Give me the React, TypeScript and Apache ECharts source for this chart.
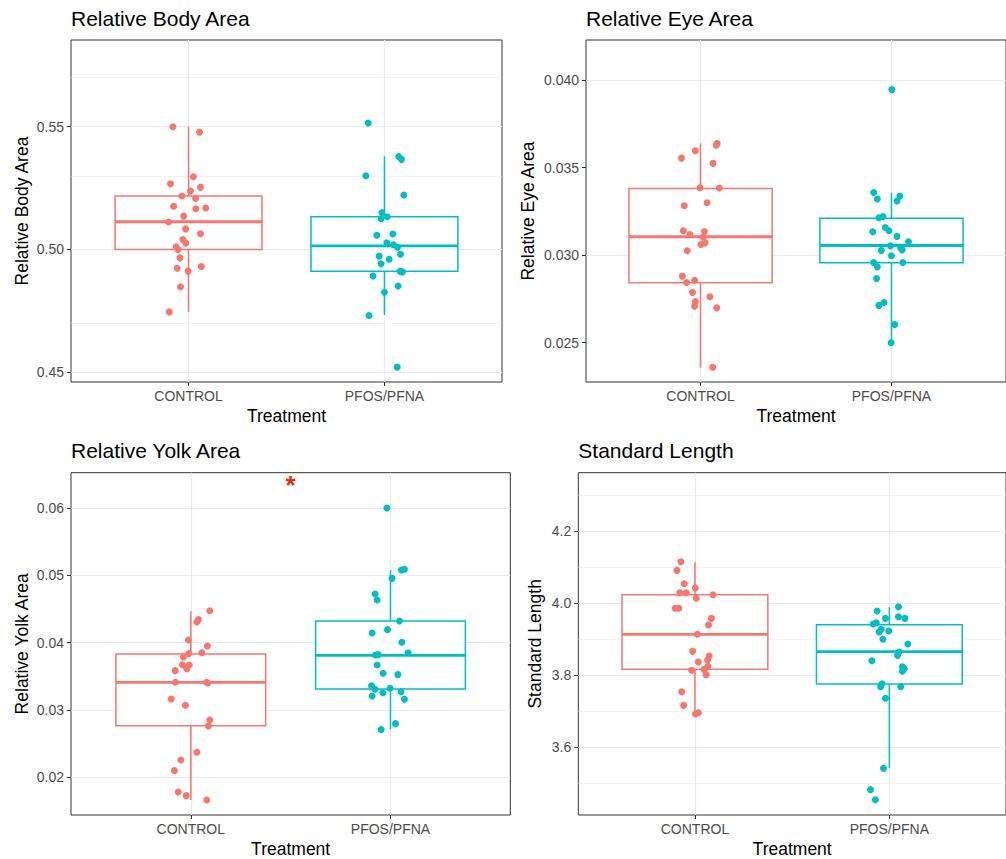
import React, { useEffect, useRef } from "react";
import * as echarts from "echarts";

const treatments = ["CONTROL", "PFOS/PFNA"];
const groupColors = ["#F8766D", "#00BFC4"];

// [jitter offset, value]
const bodyControl = [[-0.080,0.5500],[0.056,0.5478],[0.025,0.5296],[-0.092,0.5268],[0.061,0.5253],[0.010,0.5238],[-0.034,0.5218],[0.036,0.5208],[-0.076,0.5176],[0.037,0.5166],[0.088,0.5169],[-0.025,0.5136],[-0.102,0.5112],[-0.015,0.5084],[0.061,0.5064],[-0.029,0.5041],[-0.014,0.5026],[-0.063,0.5011],[-0.053,0.5000],[-0.044,0.4966],[-0.058,0.4924],[0.065,0.4931],[-0.002,0.4912],[-0.041,0.4848],[-0.098,0.4746]];
const bodyPfos = [[-0.083,0.5515],[0.073,0.5379],[0.087,0.5367],[-0.095,0.5300],[0.099,0.5222],[-0.013,0.5150],[-0.017,0.5125],[0.014,0.5133],[-0.039,0.5058],[0.043,0.5063],[0.012,0.5027],[0.046,0.5019],[0.066,0.5009],[0.082,0.4981],[-0.027,0.4973],[0.024,0.4960],[-0.017,0.4942],[0.080,0.4911],[0.092,0.4909],[-0.058,0.4892],[0.070,0.4851],[0.000,0.4826],[-0.079,0.4731],[0.065,0.4521]];
const eyeControl = [[0.087,0.03638],[0.082,0.03627],[-0.027,0.03596],[-0.100,0.03554],[0.065,0.03524],[-0.003,0.03385],[0.098,0.03383],[-0.085,0.03282],[0.034,0.03299],[-0.090,0.03139],[-0.056,0.03118],[0.020,0.03135],[0.014,0.03103],[0.024,0.03070],[0.002,0.03061],[-0.070,0.03025],[-0.095,0.02880],[-0.073,0.02844],[-0.031,0.02857],[-0.042,0.02787],[0.049,0.02762],[-0.027,0.02735],[-0.031,0.02709],[0.085,0.02699],[0.064,0.02360]];
const eyePfos = [[0.002,0.03945],[-0.093,0.03358],[-0.074,0.03320],[0.044,0.03337],[0.029,0.03309],[-0.066,0.03213],[-0.044,0.03221],[-0.098,0.03133],[-0.032,0.03158],[-0.013,0.03139],[0.029,0.03107],[0.089,0.03076],[-0.005,0.03053],[-0.053,0.03027],[0.048,0.03042],[0.056,0.03030],[0.000,0.02996],[-0.093,0.02958],[-0.074,0.02933],[0.060,0.02958],[-0.078,0.02867],[-0.066,0.02713],[-0.039,0.02730],[0.017,0.02604],[-0.002,0.02500]];
const yolkControl = [[0.095,0.04475],[0.038,0.04342],[0.030,0.04307],[-0.012,0.04040],[0.083,0.03950],[-0.010,0.03837],[0.055,0.03851],[-0.037,0.03787],[-0.042,0.03673],[-0.008,0.03668],[-0.020,0.03614],[-0.078,0.03584],[-0.077,0.03411],[0.080,0.03411],[0.085,0.03400],[-0.098,0.03163],[-0.027,0.03069],[0.095,0.02851],[0.088,0.02762],[0.030,0.02371],[-0.050,0.02257],[-0.082,0.02099],[-0.063,0.01782],[-0.023,0.01728],[0.080,0.01663]];
const yolkPfos = [[-0.018,0.06000],[0.055,0.05079],[0.070,0.05089],[0.008,0.04955],[-0.077,0.04723],[-0.067,0.04634],[0.045,0.04322],[-0.092,0.04144],[-0.015,0.04193],[0.057,0.04005],[0.088,0.03851],[-0.075,0.03817],[-0.062,0.03822],[-0.067,0.03668],[-0.037,0.03545],[0.037,0.03525],[-0.095,0.03361],[-0.078,0.03307],[-0.002,0.03322],[-0.092,0.03208],[-0.038,0.03257],[0.053,0.03272],[0.070,0.03158],[0.025,0.02797],[-0.047,0.02708]];
const lengthControl = [[-0.072,4.1148],[-0.093,4.0907],[-0.055,4.0537],[0.002,4.0417],[-0.078,4.0287],[-0.045,4.0287],[0.007,4.0130],[0.093,4.0231],[-0.102,3.9852],[-0.083,3.9852],[0.085,3.9574],[0.070,3.9389],[0.012,3.9130],[-0.012,3.8657],[0.073,3.8528],[0.065,3.8417],[0.017,3.8361],[-0.017,3.8130],[0.067,3.8241],[0.047,3.8157],[0.058,3.8009],[-0.068,3.7537],[-0.058,3.7157],[0.003,3.6917],[0.018,3.6954]];
const lengthPfos = [[0.047,3.9898],[-0.063,3.9778],[-0.020,3.9574],[0.047,3.9620],[0.080,3.9574],[-0.083,3.9417],[-0.067,3.9454],[-0.042,3.9269],[-0.053,3.9194],[-0.003,3.9222],[-0.033,3.8991],[0.095,3.8861],[0.050,3.8639],[0.042,3.8546],[-0.090,3.8398],[0.067,3.8231],[0.077,3.8176],[0.067,3.8102],[-0.038,3.7759],[-0.045,3.7676],[0.058,3.7676],[-0.020,3.7352],[-0.030,3.5407],[-0.097,3.4815],[-0.072,3.4537]];

// box stats: [lower whisker, Q1, median, Q3, upper whisker]
const bodyBoxControl = [0.4746, 0.5000, 0.5113, 0.5218, 0.5500];
const bodyBoxPfos = [0.4733, 0.4911, 0.5015, 0.5133, 0.5379];
const eyeBoxControl = [0.02358, 0.02842, 0.03105, 0.03381, 0.03638];
const eyeBoxPfos = [0.0250, 0.02956, 0.03055, 0.03211, 0.03356];
const yolkBoxControl = [0.01663, 0.02767, 0.03411, 0.03832, 0.04470];
const yolkBoxPfos = [0.02713, 0.03312, 0.03812, 0.04322, 0.05079];
const lengthBoxControl = [3.6935, 3.8157, 3.9130, 4.0231, 4.1130];
const lengthBoxPfos = [3.5407, 3.7750, 3.8648, 3.9398, 3.9880];

// tick values
const bodyMajor = [0.45, 0.50, 0.55];
const bodyMinor = [0.475, 0.525, 0.575];
const eyeMajor = [0.025, 0.030, 0.035, 0.040];
const eyeMinor = [0.0275, 0.0325, 0.0375];
const yolkMajor = [0.02, 0.03, 0.04, 0.05, 0.06];
const yolkMinor = [0.015, 0.025, 0.035, 0.045, 0.055, 0.065];
const lengthMajor = [3.6, 3.8, 4.0, 4.2];
const lengthMinor = [3.5, 3.7, 3.9, 4.1, 4.3];

const titles = ["Relative Body Area", "Relative Eye Area", "Relative Yolk Area", "Standard Length"];
const xTitle = "Treatment";
const significance = [{ panel: 2, x: 1.5, y: 0.0641, text: "*" }];

const panels = [
  { title: titles[0], pts: [bodyControl, bodyPfos], box: [bodyBoxControl, bodyBoxPfos], major: bodyMajor, minor: bodyMinor, dec: 2,
    grid: { left: 71, top: 40, width: 431, height: 342 }, yr: [0.44605, 0.5853], nameGap: 40, titleTop: 8 },
  { title: titles[1], pts: [eyeControl, eyePfos], box: [eyeBoxControl, eyeBoxPfos], major: eyeMajor, minor: eyeMinor, dec: 3,
    grid: { left: 586, top: 40, width: 432, height: 342 }, yr: [0.022756, 0.042284], nameGap: 49, titleTop: 8 },
  { title: titles[2], pts: [yolkControl, yolkPfos], box: [yolkBoxControl, yolkBoxPfos], major: yolkMajor, minor: yolkMinor, dec: 2,
    grid: { left: 71, top: 472.7, width: 439.3, height: 342.3 }, yr: [0.0144, 0.065243], nameGap: 40, titleTop: 440 },
  { title: titles[3], pts: [lengthControl, lengthPfos], box: [lengthBoxControl, lengthBoxPfos], major: lengthMajor, minor: lengthMinor, dec: 1,
    grid: { left: 578.3, top: 472.7, width: 440, height: 342.3 }, yr: [3.4111, 4.362], nameGap: 34, titleTop: 440 },
];

const FONT = "Liberation Sans, Arial, Helvetica, sans-serif";

export default function App() {
  const ref = useRef<HTMLDivElement>(null);
  useEffect(() => {
    if (!ref.current) return;
    const chart = echarts.init(ref.current, null, { renderer: "svg" });
    const grid: any[] = [];
    const xAxis: any[] = [];
    const yAxis: any[] = [];
    const title: any[] = [];
    const series: any[] = [];

    panels.forEach((p, i) => {
      grid.push({ ...p.grid, show: true, borderColor: "#333333", borderWidth: 1, backgroundColor: "transparent", containLabel: false });
      title.push({ text: p.title, left: p.grid.left, top: p.titleTop, padding: 0,
        textStyle: { fontFamily: FONT, fontSize: 21, fontWeight: "normal", color: "#000" } });
      xAxis.push({
        type: "value", gridIndex: i, min: 0.4, max: 2.6,
        name: xTitle, nameLocation: "middle", nameGap: 25,
        nameTextStyle: { fontFamily: FONT, fontSize: 17.5, color: "#000" },
        axisLine: { show: false },
        axisTick: { show: true, length: 4, customValues: [1, 2], lineStyle: { color: "#333333", width: 1 } },
        axisLabel: { show: true, margin: 7, customValues: [1, 2], fontFamily: FONT, fontSize: 14, color: "#4d4d4d",
          formatter: (v: number) => treatments[Math.round(v) - 1] ?? "" },
        splitLine: { show: false },
      });
      yAxis.push({
        type: "value", gridIndex: i, min: p.yr[0], max: p.yr[1],
        name: p.title, nameLocation: "middle", nameGap: p.nameGap,
        nameTextStyle: { fontFamily: FONT, fontSize: 17.5, color: "#000" },
        axisLine: { show: false },
        axisTick: { show: true, length: 4, customValues: p.major, lineStyle: { color: "#333333", width: 1 } },
        axisLabel: { show: true, margin: 7, customValues: p.major, fontFamily: FONT, fontSize: 14, color: "#4d4d4d",
          formatter: (v: number) => v.toFixed(p.dec) },
        splitLine: { show: false },
      });
      // gridlines
      series.push({
        type: "line", xAxisIndex: i, yAxisIndex: i, data: [], silent: true, z: 0,
        markLine: {
          z: 0, zlevel: 0,
          silent: true, symbol: ["none", "none"], label: { show: false }, animation: false,
          data: [
            ...p.minor.map((v) => ({ yAxis: v, lineStyle: { color: "#ebebeb", width: 0.6, type: "solid" } })),
            ...p.major.map((v) => ({ yAxis: v, lineStyle: { color: "#ebebeb", width: 1.2, type: "solid" } })),
            ...[1, 2].map((v) => ({ xAxis: v, lineStyle: { color: "#ebebeb", width: 1.2, type: "solid" } })),
          ],
        },
      });
      // boxes
      series.push({
        type: "custom", xAxisIndex: i, yAxisIndex: i, z: 2, silent: true,
        encode: { x: 0, y: [1, 2, 3, 4, 5] },
        data: p.box.map((b, gi) => [gi + 1, ...b]),
        renderItem: (params: any, api: any) => {
          const x = api.value(0);
          const lo = api.value(1), q1 = api.value(2), med = api.value(3), q3 = api.value(4), hi = api.value(5);
          const hw = 0.375;
          const tl = api.coord([x - hw, q3]);
          const br = api.coord([x + hw, q1]);
          const m = api.coord([x, med]);
          const t = api.coord([x, hi]);
          const b = api.coord([x, lo]);
          const color = groupColors[params.dataIndex];
          return {
            type: "group",
            children: [
              { type: "line", shape: { x1: m[0], y1: t[1], x2: m[0], y2: tl[1] }, style: { stroke: color, lineWidth: 1.5 } },
              { type: "line", shape: { x1: m[0], y1: br[1], x2: m[0], y2: b[1] }, style: { stroke: color, lineWidth: 1.5 } },
              { type: "rect", shape: { x: tl[0], y: tl[1], width: br[0] - tl[0], height: br[1] - tl[1] }, style: { fill: "#ffffff", stroke: color, lineWidth: 1.5 } },
              { type: "line", shape: { x1: tl[0], y1: m[1], x2: br[0], y2: m[1] }, style: { stroke: color, lineWidth: 2.8 } },
            ],
          };
        },
      });
      // points
      p.pts.forEach((arr, gi) => {
        series.push({
          type: "scatter", xAxisIndex: i, yAxisIndex: i, z: 3, silent: true,
          symbol: "circle", symbolSize: 7,
          itemStyle: { color: groupColors[gi], opacity: 1 },
          data: arr.map(([j, v]) => [gi + 1 + j, v]),
        });
      });
    });

    significance.forEach((s) => {
      series.push({
        type: "custom", xAxisIndex: s.panel, yAxisIndex: s.panel, z: 4, silent: true,
        encode: { x: 0, y: 1 },
        data: [[s.x, s.y]],
        renderItem: (params: any, api: any) => {
          const c = api.coord([api.value(0), api.value(1)]);
          return {
            type: "text", x: c[0], y: c[1] + 5,
            style: { text: s.text, fill: "#ee2a10", fontSize: 26, fontWeight: "bold", fontFamily: FONT, align: "center", verticalAlign: "middle" },
          };
        },
      });
    });

    chart.setOption({ animation: false, backgroundColor: "#ffffff", title, grid, xAxis, yAxis, series });
    return () => chart.dispose();
  }, []);
  return <div ref={ref} style={{ position: "fixed", left: 0, top: 0, width: 1006, height: 859 }} />;
}
